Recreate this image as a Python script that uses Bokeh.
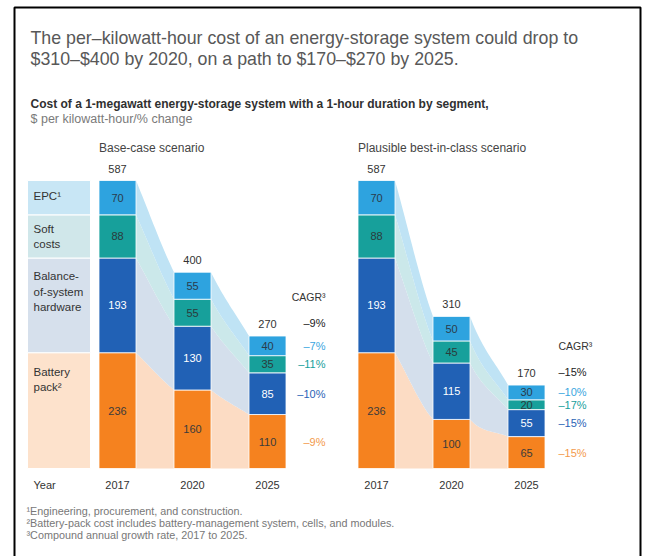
from bokeh.plotting import figure
from bokeh.models import Range1d
from bokeh.embed import file_html
from bokeh.resources import INLINE
from bokeh.core.properties import value

# ---------------- data ----------------
years = ["2017", "2020", "2025"]
segment_labels = ["Battery\npack²", "Balance-\nof-system\nhardware", "Soft\ncosts", "EPC¹"]  # bottom-up

battery_base = [236, 160, 110]
bos_base = [193, 130, 85]
soft_base = [88, 55, 35]
epc_base = [70, 55, 40]
total_base = [587, 400, 270]
cagr_base = ["–9%", "–9%", "–10%", "–11%", "–7%"]   # total, battery, bos, soft, epc

battery_best = [236, 100, 65]
bos_best = [193, 115, 55]
soft_best = [88, 45, 20]
epc_best = [70, 50, 30]
total_best = [587, 310, 170]
cagr_best = ["–15%", "–15%", "–15%", "–17%", "–10%"]

scenario_titles = ["Base-case scenario", "Plausible best-in-class scenario"]
title_lines = ["The per–kilowatt-hour cost of an energy-storage system could drop to",
               "$310–$400 by 2020, on a path to $170–$270 by 2025."]
subtitle = "Cost of a 1-megawatt energy-storage system with a 1-hour duration by segment,"
unit_line = "$ per kilowatt-hour/% change"
footnotes = ["¹Engineering, procurement, and construction.",
             "²Battery-pack cost includes battery-management system, cells, and modules.",
             "³Compound annual growth rate, 2017 to 2025."]

# ---------------- styles ----------------
FONT = value("Liberation Sans")
bar_colors = ["#f5821f", "#2161b5", "#17a09b", "#2ea3df"]
band_colors = ["#fcdcc4", "#d4dfec", "#cbe8ea", "#bfe3f5"]
legend_colors = ["#fde2cc", "#d6e0ec", "#d0e7ea", "#c8e6f5"]
legend_pad = [13, 12, 8, 9]
inbar_text = ["#3b3b3b", "#ffffff", "#2b3b3b", "#2b3b4b"]
cagr_colors = ["#222222", "#f39a4c", "#2a63b6", "#17a09b", "#3aa6e0"]

W, H = 647, 556
BASE_Y = 468
K = 288 / 587.0       # px per $
BW = 37
STEP = 75
panel_x0 = [117, 376]

p = figure(width=W, height=H, x_range=Range1d(0, W), y_range=Range1d(H, 0),
           output_backend="svg", toolbar_location=None, min_border=0)
p.extra_y_ranges = {"usd": Range1d(start=-(H - BASE_Y) / K, end=BASE_Y / K)}
p.axis.visible = False
p.xgrid.visible = False
p.ygrid.visible = False
p.outline_line_color = None
p.background_fill_color = "white"
p.border_fill_color = "white"

# frame
p.line(x=[14, 14, 640, 640], y=[H + 5, 7, 7, H + 5], line_color="black", line_width=2)

# titles
p.text(x=[30, 30], y=[37, 58], text=title_lines, text_font=FONT, text_font_size="17.8px",
       text_color="#585858", text_baseline="middle")
p.text(x=[30], y=[103], text=[subtitle], text_font=FONT, text_font_size="12px",
       text_font_style="bold", text_color="#303030", text_baseline="middle")
p.text(x=[30], y=[118], text=[unit_line], text_font=FONT, text_font_size="12.5px",
       text_color="#7a7a7a", text_baseline="middle")


def hermite(y0, y1, m0, m1, n=24):
    out = []
    for j in range(n + 1):
        t = j / n
        h00 = 2 * t ** 3 - 3 * t ** 2 + 1
        h10 = t ** 3 - 2 * t ** 2 + t
        h01 = -2 * t ** 3 + 3 * t ** 2
        h11 = t ** 3 - t ** 2
        out.append(h00 * y0 + h10 * m0 + h01 * y1 + h11 * m1)
    return out


def curves(cum):
    chords = [cum[i + 1] - cum[i] for i in range(len(cum) - 1)]
    tang = [chords[0]] + [(chords[i - 1] + chords[i]) / 2 for i in range(1, len(chords))] + [chords[-1]]
    return [hermite(cum[i], cum[i + 1], tang[i], tang[i + 1]) for i in range(len(chords))]


scen = [
    ([battery_base, bos_base, soft_base, epc_base], total_base, cagr_base),
    ([battery_best, bos_best, soft_best, epc_best], total_best, cagr_best),
]

for pi, (layers, totals, cagr) in enumerate(scen):
    x0 = panel_x0[pi]
    xs_c = [x0 + STEP * i for i in range(len(years))]
    # cumulative
    lows, highs = [], []
    run = [0] * len(years)
    for lay in layers:
        lows.append(list(run))
        run = [run[i] + lay[i] for i in range(len(years))]
        highs.append(list(run))

    # bands
    bxs, bys, bcol = [], [], []
    for k in range(len(layers)):
        lc = curves(lows[k])
        hc = curves(highs[k])
        for g in range(len(years) - 1):
            xr = xs_c[g] + BW / 2
            xl = xs_c[g + 1] - BW / 2
            n = len(hc[g])
            xx = [xr + (xl - xr) * j / (n - 1) for j in range(n)]
            bxs.append(xx + xx[::-1])
            bys.append(hc[g] + lc[g][::-1])
            bcol.append(band_colors[k])
    p.patches(xs=bxs, ys=bys, fill_color=bcol, line_color=None, y_range_name="usd")

    # legend column (left panel only)
    if pi == 0:
        p.quad(left=[27] * 4, right=[90] * 4, bottom=[l[0] for l in lows],
               top=[h[0] for h in highs], fill_color=legend_colors, line_color="white",
               line_width=1, y_range_name="usd")
        p.text(x=[33] * 4, y=[h[0] for h in highs], y_offset=legend_pad, text=segment_labels,
               text_font=FONT, text_font_size="11.5px", text_color="#333333",
               text_baseline="top", text_line_height=1.3, y_range_name="usd")
        p.text(x=[33], y=[484], text=["Year"], text_font=FONT, text_font_size="11px",
               text_color="#333333", text_baseline="middle")

    # bars
    for k, lay in enumerate(layers):
        p.vbar(x=xs_c, width=BW, bottom=lows[k], top=highs[k], fill_color=bar_colors[k],
               line_color="white", line_width=0.8, y_range_name="usd")
        p.text(x=xs_c, y=[(lows[k][i] + highs[k][i]) / 2 for i in range(len(years))],
               text=[str(v) for v in lay], text_font=FONT, text_font_size="11px",
               text_color=inbar_text[k], text_align="center", text_baseline="middle",
               y_range_name="usd")

    # totals
    p.text(x=xs_c, y=totals, y_offset=[-12] * 3, text=[str(v) for v in totals], text_font=FONT,
           text_font_size="11px", text_color="#333333", text_align="center",
           text_baseline="middle", y_range_name="usd")
    # years
    p.text(x=xs_c, y=[484] * 3, text=years, text_font=FONT, text_font_size="11px",
           text_color="#333333", text_align="center", text_baseline="middle")
    # scenario title
    p.text(x=[xs_c[0] - BW / 2], y=[147], text=[scenario_titles[pi]], text_font=FONT,
           text_font_size="12px", text_color="#444444", text_baseline="middle")

    # CAGR column
    last = len(years) - 1
    cy = [highs[-1][last]] + [(lows[k][last] + highs[k][last]) / 2 for k in range(len(layers))]
    yoff = [-13] + [0] * len(layers)
    if pi == 0:
        cx, align = 325, "right"
    else:
        cx, align = 558, "left"
    p.text(x=[cx] * len(cy), y=cy, y_offset=yoff, text=cagr, text_font=FONT,
           text_font_size="11px", text_color=cagr_colors, text_align=align,
           text_baseline="middle", y_range_name="usd")
    p.text(x=[cx], y=[highs[-1][last]], y_offset=[-39], text=["CAGR³"], text_font=FONT,
           text_font_size="10.5px", text_color="#333333", text_align=align,
           text_baseline="middle", y_range_name="usd")

# footnotes
p.text(x=[26] * 3, y=[510, 522, 534], text=footnotes, text_font=FONT, text_font_size="10.8px",
       text_color="#777777", text_baseline="middle")

open("out.html", "w").write(file_html(p, INLINE))
